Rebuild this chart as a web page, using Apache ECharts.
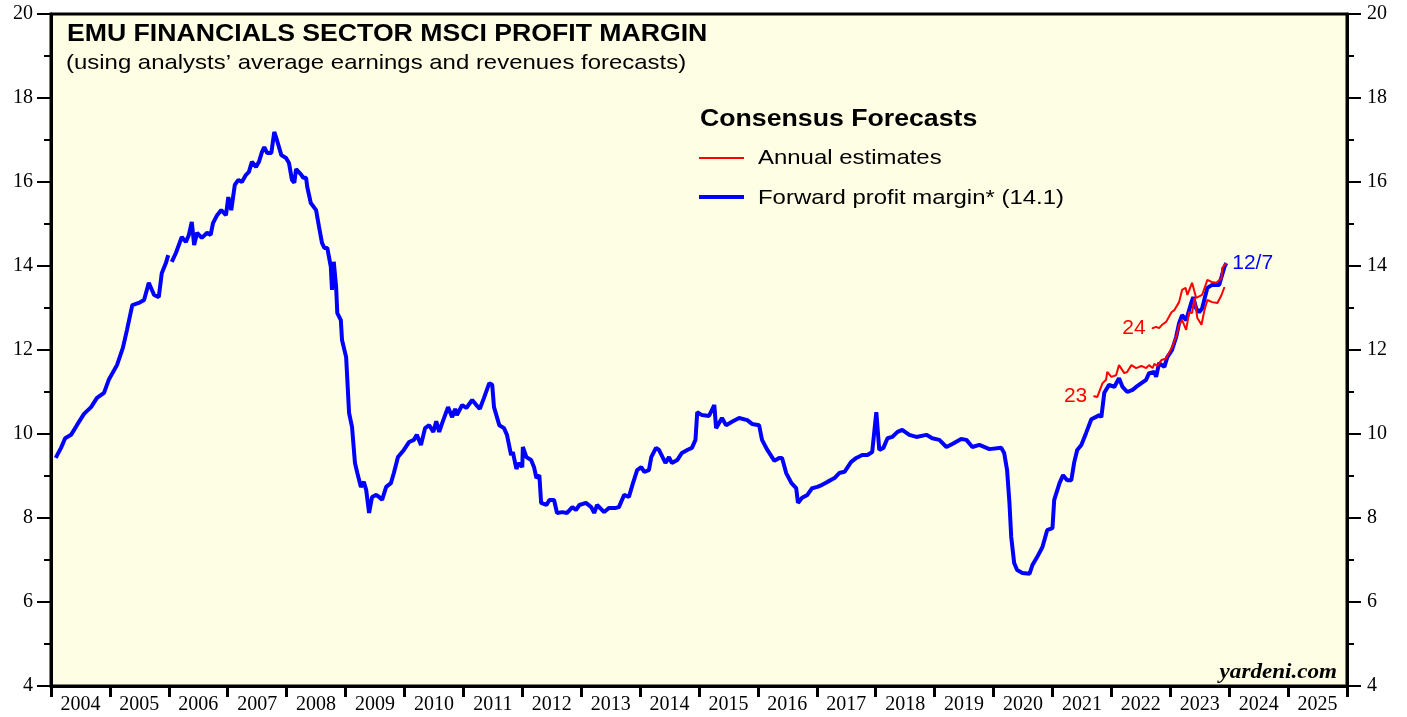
<!DOCTYPE html>
<html>
<head>
    <meta charset="utf-8">
    <title>EMU Financials Profit Margin</title>
    <script src="https://cdn.jsdelivr.net/npm/echarts@6/dist/echarts.min.js"></script>
    <style>
        html, body, #main {
            width: 100%;
            height: 100%;
            margin: 0;
            background: #fff;
        }
    </style>
</head>
<body>
    <div id="main"></div>
    <script type="text/javascript">
        // year labels under the axis
        var years = ['2004','2005','2006','2007','2008','2009','2010','2011','2012','2013','2014',
                     '2015','2016','2017','2018','2019','2020','2021','2022','2023','2024','2025'];

        // forward profit margin, decimal year / percent
        var fwdX = [2004.08,2004.17,2004.24,2004.34,2004.44,2004.56,2004.68,2004.78,2004.90,2004.98,
            2005.12,2005.22,2005.29,2005.38,2005.49,2005.58,2005.66,2005.75,2005.83,2005.88,2005.95,2005.99,
            2006.01,2006.05,2006.12,2006.22,2006.29,2006.34,2006.39,2006.43,2006.48,2006.56,2006.65,2006.71,
            2006.75,2006.82,2006.89,2006.97,2007.01,2007.06,2007.12,2007.18,2007.24,2007.31,2007.36,2007.41,
            2007.48,2007.53,2007.58,2007.62,2007.67,2007.74,2007.79,2007.82,2007.91,2007.99,2008.04,2008.09,
            2008.13,2008.16,2008.25,2008.28,2008.33,2008.35,2008.41,2008.50,2008.55,2008.60,2008.64,2008.69,
            2008.75,2008.77,2008.80,2008.84,2008.86,2008.92,2008.94,2009.01,2009.06,2009.11,2009.16,2009.20,
            2009.26,2009.31,2009.35,2009.40,2009.45,2009.52,2009.57,2009.62,2009.69,2009.77,2009.82,2009.89,
            2009.99,2010.08,2010.16,2010.21,2010.28,2010.35,2010.42,2010.49,2010.54,2010.59,2010.64,2010.74,
            2010.81,2010.86,2010.89,2010.98,2011.05,2011.15,2011.22,2011.28,2011.35,2011.44,2011.49,2011.52,
            2011.61,2011.69,2011.74,2011.81,2011.84,2011.90,2011.95,2012.00,2012.01,2012.07,2012.15,2012.20,
            2012.24,2012.29,2012.32,2012.41,2012.46,2012.54,2012.59,2012.68,2012.76,2012.85,2012.91,2012.97,
            2013.08,2013.17,2013.22,2013.27,2013.39,2013.47,2013.59,2013.64,2013.73,2013.81,2013.87,2013.95,
            2014.02,2014.07,2014.15,2014.19,2014.27,2014.32,2014.43,2014.49,2014.54,2014.63,2014.71,2014.80,
            2014.88,2014.94,2014.97,2015.05,2015.17,2015.26,2015.29,2015.39,2015.46,2015.56,2015.68,2015.82,
            2015.90,2016.02,2016.07,2016.16,2016.28,2016.36,2016.41,2016.48,2016.57,2016.65,2016.68,2016.75,
            2016.84,2016.92,2017.01,2017.09,2017.18,2017.30,2017.38,2017.47,2017.58,2017.67,2017.77,2017.86,
            2017.94,2018.01,2018.04,2018.06,2018.13,2018.20,2018.28,2018.37,2018.45,2018.57,2018.69,2018.86,
            2018.96,2019.08,2019.20,2019.30,2019.45,2019.54,2019.64,2019.76,2019.93,2020.13,2020.18,2020.23,
            2020.27,2020.30,2020.35,2020.40,2020.49,2020.61,2020.66,2020.74,2020.83,2020.91,2021.00,2021.03,
            2021.12,2021.18,2021.25,2021.32,2021.37,2021.42,2021.49,2021.57,2021.66,2021.80,2021.83,2021.88,
            2021.96,2022.05,2022.13,2022.19,2022.27,2022.36,2022.42,2022.51,2022.59,2022.64,2022.73,2022.76,
            2022.81,2022.90,2022.95,2023.03,2023.10,2023.15,2023.20,2023.27,2023.36,2023.39,2023.44,2023.49,
            2023.54,2023.63,2023.71,2023.83,2023.87,2023.92,2023.95];
        var fwdY = [9.43,9.67,9.90,9.98,10.21,10.48,10.64,10.86,10.98,11.29,
            11.64,12.05,12.48,13.07,13.12,13.19,13.60,13.31,13.26,13.83,14.07,14.26,
            null,14.10,14.31,14.69,14.57,14.74,15.05,14.50,14.79,14.67,14.79,14.74,
            15.02,15.21,15.33,15.21,15.64,15.33,15.93,16.05,16.00,16.17,16.24,16.48,
            16.36,16.48,16.71,16.83,16.69,16.69,17.19,17.07,16.64,16.57,16.45,16.05,
            15.98,16.31,16.17,16.10,16.10,15.88,15.50,15.33,14.93,14.55,14.43,14.43,
            13.98,13.43,14.10,13.50,12.88,12.71,12.24,11.83,10.50,10.17,9.31,9.07,
            8.74,8.86,8.67,8.12,8.50,8.55,8.50,8.43,8.74,8.83,9.07,9.45,
            9.62,9.81,9.86,9.98,9.74,10.14,10.21,10.05,10.30,10.05,10.26,10.64,
            10.40,10.60,10.45,10.69,10.62,10.81,10.69,10.60,10.86,11.21,11.17,10.64,
            10.21,10.14,9.98,9.50,9.57,9.17,9.31,9.21,9.69,9.45,9.38,9.21,
            8.95,9.02,8.36,8.31,8.43,8.43,8.12,8.14,8.12,8.26,8.19,8.31,
            8.36,8.26,8.12,8.31,8.14,8.24,8.24,8.26,8.55,8.50,8.79,9.14,
            9.21,9.10,9.14,9.45,9.67,9.62,9.31,9.45,9.31,9.38,9.55,9.62,
            9.67,9.86,10.52,10.45,10.43,10.69,10.14,10.38,10.21,10.29,10.38,10.33,
            10.24,10.21,9.86,9.62,9.36,9.43,9.43,9.07,8.83,8.71,8.36,8.48,
            8.55,8.71,8.74,8.79,8.86,8.95,9.07,9.10,9.33,9.43,9.50,9.50,
            9.57,10.52,10.52,9.62,9.67,9.90,9.93,10.05,10.10,9.98,9.93,9.98,
            9.90,9.86,9.69,9.76,9.88,9.86,9.69,9.74,9.64,9.67,9.55,9.14,
            8.36,7.55,6.93,6.76,6.69,6.67,6.88,7.07,7.31,7.71,7.76,8.43,
            8.83,9.02,8.90,8.90,9.33,9.62,9.74,10.02,10.35,10.45,10.40,10.98,
            11.17,11.12,11.33,11.12,11.00,11.05,11.12,11.21,11.29,11.45,11.48,11.36,
            11.69,11.60,11.83,12.00,12.31,12.64,12.83,12.71,13.14,13.26,12.99,12.90,
            12.99,13.48,13.55,13.55,13.74,13.98,14.07];

        // annual estimate for 2023
        var est23X = [2021.71,2021.76,2021.85,2021.91,2021.93,2022.00,2022.08,2022.13,2022.22,2022.27,
            2022.34,2022.42,2022.51,2022.59,2022.64,2022.70,2022.73,2022.78,2022.85,2022.92,2022.98,2023.03,
            2023.10,2023.15,2023.20,2023.27,2023.32,2023.37,2023.41,2023.46,2023.53,2023.58,2023.63,2023.71,
            2023.80,2023.87,2023.92];
        var est23Y = [10.90,10.88,11.21,11.29,11.48,11.36,11.40,11.64,11.45,11.48,
            11.64,11.57,11.62,11.57,11.64,11.57,11.67,11.62,11.76,11.79,11.93,12.07,
            12.31,12.60,12.71,12.48,12.90,12.88,13.24,12.76,12.60,12.95,13.19,13.14,
            13.12,13.31,13.50];

        // annual estimate for 2024
        var est24X = [2022.70,2022.76,2022.81,2022.86,2022.93,2023.02,2023.07,2023.15,2023.20,2023.26,
            2023.29,2023.37,2023.44,2023.54,2023.63,2023.70,2023.78,2023.87,2023.88,2023.95];
        var est24Y = [12.52,12.55,12.52,12.60,12.67,12.90,12.95,13.14,13.43,13.48,
            13.31,13.60,13.24,13.31,13.67,13.62,13.60,13.71,13.95,14.07];

        var sans = 'Liberation Sans';
        var serif = 'Liberation Serif';

        // first point carries the year tag ("23", "24")
        function pairs(xs, ys, tag) {
            return xs.map(function (x, i) {
                var item = { value: [x, ys[i]] };
                if (i === 0 && tag) {
                    item.symbol = 'circle';
                    item.symbolSize = 2;
                    item.label = { show: true, position: 'left', distance: 6, formatter: tag,
                        color: '#ff0000', fontSize: 21, fontFamily: sans };
                }
                return item;
            });
        }

        // text stretched a bit wider, like the source image
        function txt(x, y, s, font, sx, align) {
            return {
                type: 'text', x: x, y: y, scaleX: sx || 1.13, silent: true,
                style: { text: s, fill: '#000', font: font,
                    textAlign: align || 'left', textVerticalAlign: 'middle' }
            };
        }

        var myChart = echarts.init(document.getElementById('main'));

        var yAxisBase = {
            type: 'value', min: 4, max: 20, interval: 2,
            axisLine: { show: true, lineStyle: { color: '#000', width: 3 } },
            axisTick: { show: true, length: 14, lineStyle: { color: '#000', width: 2 } },
            minorTick: { show: true, splitNumber: 2, length: 7, lineStyle: { color: '#000', width: 2 } },
            splitLine: { show: false },
            axisLabel: { color: '#000', fontFamily: serif, fontSize: 20, margin: 18 }
        };

        var option = {
            animation: false,
            backgroundColor: '#ffffff',
            grid: {
                left: 51, right: 60, top: 14, bottom: 31,
                show: true, backgroundColor: '#fefee4',
                borderColor: '#000', borderWidth: 3
            },
            xAxis: [{
                type: 'value', min: 2004, max: 2026, interval: 1,
                show: false
            }, {
                type: 'category', data: years, position: 'bottom',
                boundaryGap: true,
                axisLine: { show: true, lineStyle: { color: '#000', width: 3 } },
                axisTick: { show: true, length: 11, interval: 0, lineStyle: { color: '#000', width: 3 } },
                axisLabel: { interval: 0, color: '#000', fontFamily: serif, fontSize: 20, margin: 9 },
                splitLine: { show: false }
            }],
            yAxis: [
                Object.assign({}, yAxisBase, { position: 'left' }),
                Object.assign({}, yAxisBase, { position: 'right',
                    axisLabel: { color: '#000', fontFamily: serif, fontSize: 20, margin: 20 } })
            ],
            graphic: [
                txt(67, 34, 'EMU FINANCIALS SECTOR MSCI PROFIT MARGIN', 'bold 24px "Liberation Sans"', 1.11),
                txt(66, 63, '(using analysts\u2019 average earnings and revenues forecasts)', '21px "Liberation Sans"', 1.14),
                txt(700, 120, 'Consensus Forecasts', 'bold 23px "Liberation Sans"', 1.16),
                txt(758, 158, 'Annual estimates', '21px "Liberation Sans"', 1.14),
                txt(758, 198, 'Forward profit margin* (14.1)', '21px "Liberation Sans"', 1.14),
                txt(1337, 673, 'yardeni.com', 'italic bold 21px "Liberation Serif"', 1.1, 'right'),
                {
                    type: 'line', silent: true,
                    shape: { x1: 699, y1: 158, x2: 744, y2: 158 },
                    style: { stroke: '#ff0000', lineWidth: 2 }
                }, {
                    type: 'line', silent: true,
                    shape: { x1: 699, y1: 197, x2: 744, y2: 197 },
                    style: { stroke: '#0000ff', lineWidth: 4 }
                }
            ],
            series: [{
                name: 'Forward profit margin* (14.1)',
                type: 'line', xAxisIndex: 0, yAxisIndex: 0,
                symbol: 'none', connectNulls: false,
                lineStyle: { color: '#0000ff', width: 4 },
                itemStyle: { color: '#0000ff' },
                endLabel: { show: true, formatter: '12/7', color: '#0000ff',
                    fontFamily: sans, fontSize: 21, distance: 6 },
                data: pairs(fwdX, fwdY)
            }, {
                name: 'Annual estimates',
                type: 'line', xAxisIndex: 0, yAxisIndex: 0,
                symbol: 'none', showSymbol: true,
                lineStyle: { color: '#ff0000', width: 2 },
                itemStyle: { color: '#ff0000' },
                data: pairs(est23X, est23Y, '23')
            }, {
                name: 'Annual estimates',
                type: 'line', xAxisIndex: 0, yAxisIndex: 0,
                symbol: 'none', showSymbol: true,
                lineStyle: { color: '#ff0000', width: 2 },
                itemStyle: { color: '#ff0000' },
                data: pairs(est24X, est24Y, '24')
            }]
        };

        myChart.setOption(option);
        window.onresize = myChart.resize;
    </script>
</body>
</html>
